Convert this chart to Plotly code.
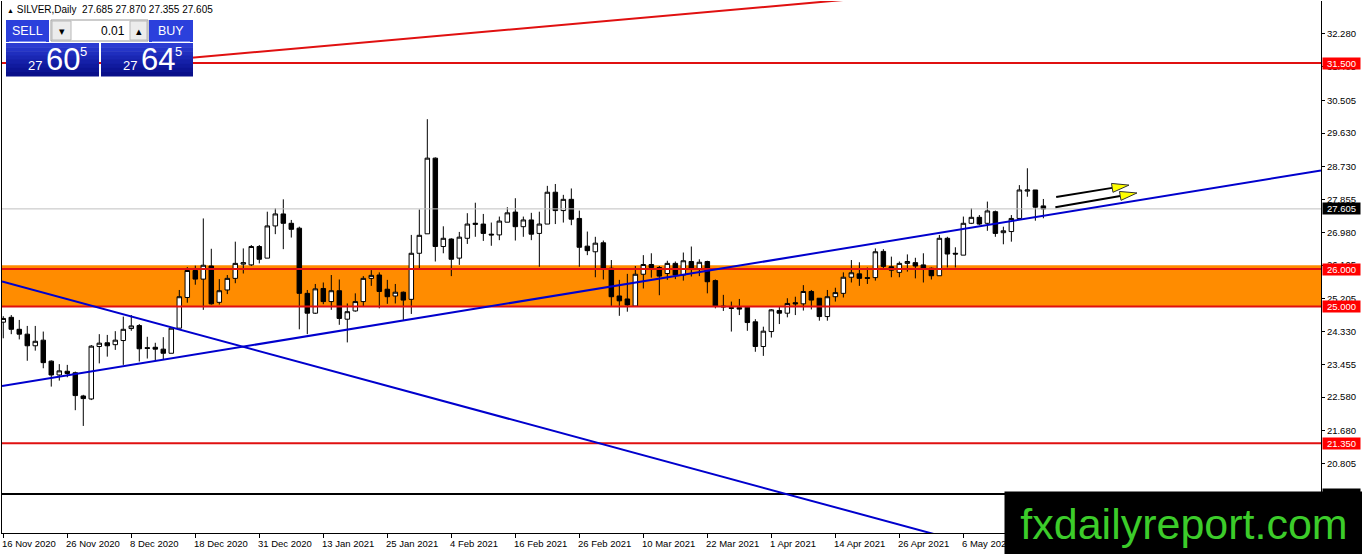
import plotly.graph_objects as go

# ---------------- data ----------------
open_ = [24.58, 24.71, 24.39, 24.26, 23.95, 24.10, 23.54, 23.17, 23.27, 23.23,
         22.61, 22.53, 23.93, 24.03, 23.98, 24.09, 24.41, 24.49, 23.90, 23.91,
         23.86, 23.75, 24.42, 25.24, 25.96, 25.73, 26.08, 25.11, 25.44, 25.75,
         26.13, 26.11, 26.60, 26.29, 27.15, 27.47, 27.22, 27.09, 25.35, 24.82,
         25.48, 25.13, 25.42, 24.66, 24.88, 25.13, 25.75, 25.84, 25.46, 25.28,
         25.38, 25.19, 26.42, 26.94, 28.96, 26.60, 26.80, 26.29, 26.82, 27.19,
         27.20, 26.93, 26.91, 27.25, 27.52, 27.13, 27.31, 26.95, 27.20, 28.05,
         27.56, 27.86, 27.35, 26.61, 26.46, 26.70, 26.02, 25.28, 25.20, 25.01,
         25.86, 26.12, 26.04, 25.88, 26.15, 25.84, 26.20, 26.00, 26.20, 25.69,
         25.01, 24.97, 24.97, 24.98, 24.59, 23.93, 24.33, 24.89, 24.82, 25.10,
         25.07, 25.40, 25.22, 24.73, 25.26, 25.35, 25.78, 25.87, 25.77, 25.77,
         26.47, 26.06, 25.91, 26.15, 26.17, 26.11, 26.02, 25.82, 26.82, 26.42,
         26.37, 27.22, 27.38, 27.22, 27.53, 26.97, 27.00, 27.35, 28.08, 28.11,
         27.685]
high_ = [24.74, 24.77, 24.64, 24.48, 24.48, 24.33, 23.56, 23.46, 23.44, 23.26,
         22.64, 23.97, 24.26, 24.24, 24.34, 24.73, 24.77, 24.53, 24.19, 24.03,
         24.18, 24.42, 25.44, 26.05, 26.09, 27.35, 26.54, 25.73, 25.84, 26.73,
         26.55, 26.64, 26.64, 27.53, 27.62, 27.86, 27.31, 27.13, 25.44, 25.60,
         25.64, 25.84, 25.72, 25.08, 25.35, 25.81, 25.97, 25.91, 25.71, 25.60,
         25.40, 26.91, 27.59, 30.00, 28.98, 27.14, 26.82, 26.99, 27.49, 27.77,
         27.47, 27.24, 27.40, 27.65, 27.89, 27.40, 27.50, 27.53, 28.22, 28.27,
         27.98, 28.15, 27.56, 27.00, 26.86, 26.76, 26.24, 25.71, 25.87, 26.08,
         26.37, 26.42, 26.08, 26.22, 26.20, 26.44, 26.60, 26.26, 26.22, 25.72,
         25.31, 25.13, 25.20, 25.01, 24.66, 24.46, 24.93, 24.99, 25.22, 25.26,
         25.57, 25.44, 25.22, 25.44, 25.50, 25.91, 26.24, 26.18, 26.04, 26.55,
         26.53, 26.33, 26.20, 26.39, 26.30, 26.42, 26.04, 26.91, 26.86, 26.58,
         27.40, 27.62, 27.44, 27.80, 27.56, 27.13, 27.44, 28.24, 28.69, 28.11,
         27.870]
low_ = [24.15, 24.26, 24.12, 23.55, 23.82, 23.35, 22.86, 23.02, 23.11, 22.23,
        21.81, 22.50, 23.48, 23.66, 23.84, 23.44, 24.35, 23.53, 23.61, 23.57,
        23.57, 23.75, 24.42, 25.10, 25.58, 24.91, 25.05, 25.05, 25.33, 25.62,
        25.88, 26.08, 26.15, 26.29, 26.93, 26.53, 26.84, 24.39, 24.26, 24.80,
        25.06, 24.91, 24.51, 24.04, 24.86, 25.01, 25.55, 24.95, 25.07, 25.08,
        24.64, 24.80, 25.99, 26.94, 26.20, 26.42, 25.81, 26.11, 26.67, 26.86,
        26.75, 26.62, 26.77, 27.25, 26.76, 26.86, 26.77, 26.06, 27.20, 27.20,
        27.24, 27.17, 26.06, 26.37, 25.78, 25.72, 24.99, 24.75, 24.86, 25.01,
        25.48, 25.77, 25.30, 25.71, 25.73, 25.69, 25.80, 25.81, 25.35, 24.95,
        24.88, 24.33, 24.77, 24.35, 23.79, 23.68, 24.17, 24.53, 24.71, 24.77,
        24.89, 24.92, 24.62, 24.62, 25.13, 25.24, 25.64, 25.55, 25.60, 25.69,
        25.98, 25.78, 25.78, 25.93, 25.75, 25.64, 25.72, 25.82, 26.04, 26.04,
        26.37, 27.20, 27.17, 27.02, 26.86, 26.66, 26.73, 27.35, 27.93, 27.29,
        27.355]
close_ = [24.68, 24.39, 24.26, 23.95, 24.07, 23.50, 23.17, 23.28, 23.21, 22.62,
          22.54, 23.94, 24.02, 23.95, 24.10, 24.39, 24.48, 23.87, 23.88, 23.86,
          23.75, 24.42, 25.26, 25.96, 25.73, 26.10, 25.07, 25.42, 25.75, 26.15,
          26.17, 26.60, 26.26, 27.15, 27.47, 27.22, 27.06, 25.35, 24.82, 25.47,
          25.13, 25.42, 24.68, 24.86, 25.13, 25.75, 25.83, 25.40, 25.26, 25.38,
          25.17, 26.42, 26.90, 28.96, 26.60, 26.82, 26.26, 26.85, 27.20, 27.22,
          26.95, 26.91, 27.28, 27.50, 27.13, 27.31, 26.93, 27.20, 28.05, 27.56,
          27.86, 27.33, 26.58, 26.49, 26.69, 25.99, 25.26, 25.15, 25.04, 25.86,
          26.12, 26.04, 25.81, 26.15, 25.84, 26.22, 26.02, 26.18, 25.66, 25.01,
          24.99, 24.95, 24.93, 24.57, 23.93, 24.34, 24.91, 24.82, 25.08, 25.07,
          25.40, 25.17, 24.73, 25.26, 25.37, 25.78, 25.90, 25.75, 25.75, 26.46,
          26.07, 25.97, 26.15, 26.20, 26.08, 26.00, 25.82, 26.82, 26.40, 26.40,
          27.22, 27.38, 27.20, 27.55, 26.95, 27.02, 27.35, 28.11, 28.11, 27.65,
          27.605]

date_labels = ["16 Nov 2020", "26 Nov 2020", "8 Dec 2020", "18 Dec 2020",
               "31 Dec 2020", "13 Jan 2021", "25 Jan 2021", "4 Feb 2021",
               "16 Feb 2021", "26 Feb 2021", "10 Mar 2021", "22 Mar 2021",
               "1 Apr 2021", "14 Apr 2021", "26 Apr 2021", "6 May 2021",
               "18 May 2021"]
bars_per_label = 8

ytick_vals = [32.280, 31.405, 30.505, 29.630, 28.730, 27.855, 26.980, 26.105,
              25.205, 24.330, 23.455, 22.580, 21.680, 20.805, 19.930]

red_levels = [31.500, 26.000, 25.000, 21.350]
black_level = 19.990
bid_price = 27.605
zone_low, zone_high = 25.0, 26.1

# trend-line anchor points (bar index, price)
rising_x, rising_y = [0, 110], [22.88, 26.72]
falling_x, falling_y = [0, 115], [25.66, 19.00]
red_diag_x, red_diag_y = [24, 100.6], [31.65, 33.10]
arrow_tail_x, arrow_tail_y = [131.6, 131.5], [27.92, 27.65]
arrow_tip_x, arrow_tip_y = [140.7, 141.7], [28.24, 28.03]

sell_price, buy_price = ("27", "60", "5"), ("27", "64", "5")
lot_size = "0.01"

# ---------------- geometry ----------------
W, H = 1362, 554
ML, MR, MT, MB = 2, 41, 1, 21
PW, PH = W - ML - MR, H - MT - MB
X_RANGE = [-0.16, 164.7]
Y_RANGE = [18.951, 33.156]
SX = PW / (X_RANGE[1] - X_RANGE[0])
SY = PH / (Y_RANGE[1] - Y_RANGE[0])

RED = "#e01010"
LABEL_RED = "#ff0000"
BLUE = "#0000cd"
FONT = "Liberation Sans"


def xp(px):
    return (px - ML) / PW


def yp(py):
    return (MT + PH - py) / PH


def extend(ax, ay, x0, x1):
    k = (ay[1] - ay[0]) / (ax[1] - ax[0])
    return [x0, x1], [ay[0] + k * (x0 - ax[0]), ay[0] + k * (x1 - ax[0])]


xs = list(range(len(open_)))
fig = go.Figure()

# horizontal level lines
for lv in red_levels:
    fig.add_trace(go.Scatter(x=X_RANGE, y=[lv, lv], mode="lines",
                             line=dict(color=RED, width=2), hoverinfo="skip"))
fig.add_trace(go.Scatter(x=X_RANGE, y=[black_level, black_level], mode="lines",
                         line=dict(color="black", width=2), hoverinfo="skip"))
fig.add_trace(go.Scatter(x=X_RANGE, y=[bid_price, bid_price], mode="lines",
                         line=dict(color="#c0c0c0", width=1), hoverinfo="skip"))

# candles
fig.add_trace(go.Candlestick(
    x=xs, open=open_, high=high_, low=low_, close=close_,
    increasing=dict(fillcolor="white", line=dict(color="black", width=1)),
    decreasing=dict(fillcolor="black", line=dict(color="black", width=1)),
    whiskerwidth=0, hoverinfo="skip"))

# trend lines
lx, ly = extend(rising_x, rising_y, X_RANGE[0], X_RANGE[1])
fig.add_trace(go.Scatter(x=lx, y=ly, mode="lines", line=dict(color=BLUE, width=2)))
lx, ly = extend(falling_x, falling_y, X_RANGE[0], X_RANGE[1])
fig.add_trace(go.Scatter(x=lx, y=ly, mode="lines", line=dict(color=BLUE, width=2)))
lx, ly = extend(red_diag_x, red_diag_y, 20, X_RANGE[1])
fig.add_trace(go.Scatter(x=lx, y=ly, mode="lines", line=dict(color=RED, width=2)))

# arrows (black shaft + yellow head)
HEAD_LEN, HEAD_HALF = 17.0, 4.5
for tx, ty, hx, hy in zip(arrow_tail_x, arrow_tail_y, arrow_tip_x, arrow_tip_y):
    dx, dy = (hx - tx) * SX, (hy - ty) * SY
    n = (dx * dx + dy * dy) ** 0.5
    ux, uy = dx / n, dy / n
    bx, by = hx - ux * HEAD_LEN / SX, hy - uy * HEAD_LEN / SY
    px_, py_ = -uy, ux
    v1 = (bx + px_ * HEAD_HALF / SX, by + py_ * HEAD_HALF / SY)
    v2 = (bx - px_ * HEAD_HALF / SX, by - py_ * HEAD_HALF / SY)
    fig.add_trace(go.Scatter(x=[tx, bx], y=[ty, by], mode="lines",
                             line=dict(color="black", width=2)))
    fig.add_trace(go.Scatter(x=[hx, v1[0], v2[0], hx], y=[hy, v1[1], v2[1], hy],
                             mode="lines", fill="toself", fillcolor="#ffff00",
                             line=dict(color="#303030", width=1)))

shapes = []
# support/resistance zone (behind candles)
shapes.append(dict(type="rect", xref="paper", yref="y", x0=0, x1=1,
                   y0=zone_low, y1=zone_high, fillcolor="#ff8c00",
                   line=dict(width=0), layer="below"))

# one-click trading panel
def rect(x0, y0, x1, y1, fill, line_color=None):
    shapes.append(dict(type="rect", xref="paper", yref="paper",
                       x0=xp(x0), x1=xp(x1), y0=yp(y1), y1=yp(y0),
                       fillcolor=fill, layer="above",
                       line=dict(width=1 if line_color else 0,
                                 color=line_color or fill)))

rect(6, 20, 49, 42, "#2b40dc")
rect(149, 20, 193, 42, "#2b40dc")
rect(51, 20, 148, 41, "white", "#9a9a9a")
rect(52, 21, 71, 40, "#ececec", "#b8b8b8")
rect(130, 21, 147, 40, "#ececec", "#b8b8b8")
shades = ["#2c3cd2", "#2535c8", "#1f2ebe", "#1a27b3", "#1520a8",
          "#101a9e", "#0c1494", "#090f8a"]
band = (76 - 43) / len(shades)
for k, c in enumerate(shades):
    rect(6, 43 + k * band, 99, 43 + (k + 1) * band + 0.6, c)
    rect(101, 43 + k * band, 193, 43 + (k + 1) * band + 0.6, c)
shapes.append(dict(type="line", xref="paper", yref="paper", x0=xp(9), x1=xp(46),
                   y0=yp(41.5), y1=yp(41.5), line=dict(color="#7d8cf0", width=1),
                   layer="above"))
shapes.append(dict(type="line", xref="paper", yref="paper", x0=xp(152), x1=xp(190),
                   y0=yp(41.5), y1=yp(41.5), line=dict(color="#7d8cf0", width=1),
                   layer="above"))

annotations = []


def txt(text, px, py, size, color="white", anchor="center", family=FONT):
    annotations.append(dict(text=text, xref="paper", yref="paper",
                            x=xp(px), y=yp(py), xanchor=anchor, yanchor="middle",
                            showarrow=False,
                            font=dict(family=family, size=size, color=color)))

# header
txt("<span style='font-size:7px'>▲</span> SILVER,Daily  "
    f"{open_[-1]:.3f} {high_[-1]:.3f} {low_[-1]:.3f} {close_[-1]:.3f}",
    5, 10, 10, "black", "left")
txt("SELL", 27.5, 31, 12.5)
txt("BUY", 171, 31, 12.5)
txt("▾", 61.5, 31, 11, "black")
txt("▴", 138.5, 31, 11, "black")
txt(lot_size, 127, 31, 12, "black", "right")
for base, (a, b, c) in ((0, sell_price), (95, buy_price)):
    txt(a, 35 + base, 66, 13)
    txt(b, 62.5 + base, 59.5, 31)
    txt(c, 83.5 + base, 51, 13)

# x tick labels (left aligned at tick, like the terminal)
for k, lab in enumerate(date_labels):
    annotations.append(dict(text=lab, xref="x", yref="paper",
                            x=k * bars_per_label, y=0, xanchor="left",
                            yanchor="top", xshift=-3, yshift=-3, showarrow=False,
                            font=dict(family=FONT, size=9.5, color="black")))

# price labels on the right axis
def price_label(val, bg):
    annotations.append(dict(text=f"{val:.3f}", xref="paper", yref="y", x=1,
                            y=val, xanchor="left", yanchor="middle", xshift=1,
                            showarrow=False, bgcolor=bg, borderpad=0,
                            width=37, height=11, align="center",
                            font=dict(family=FONT, size=9.5, color="white")))

for lv in red_levels:
    price_label(lv, LABEL_RED)
price_label(bid_price, "black")
price_label(black_level, "black")

# watermark box (on top of everything)
annotations.append(dict(text="fxdailyreport.com", xref="paper", yref="paper",
                        x=xp(1004), y=yp(491), xanchor="left", yanchor="top",
                        width=358, height=63, borderpad=0, bgcolor="black",
                        showarrow=False, align="center", valign="middle",
                        font=dict(family=FONT, size=43, color="#3ccc2a")))

fig.update_layout(
    width=W, height=H, margin=dict(l=ML, r=MR, t=MT, b=MB),
    paper_bgcolor="white", plot_bgcolor="white", showlegend=False,
    boxgap=0.2, shapes=shapes, annotations=annotations,
    xaxis=dict(range=X_RANGE, showgrid=False, zeroline=False,
               showline=True, linecolor="black", linewidth=1,
               tickmode="array",
               tickvals=[k * bars_per_label for k in range(len(date_labels))],
               showticklabels=False, ticks="outside", ticklen=4,
               tickcolor="black", rangeslider=dict(visible=False),
               fixedrange=True),
    yaxis=dict(range=Y_RANGE, side="right", showgrid=False, zeroline=False,
               showline=True, mirror=True, linecolor="black", linewidth=1,
               tickmode="array", tickvals=ytick_vals,
               ticktext=[f"{v:.3f}" for v in ytick_vals],
               ticks="outside", ticklen=3, tickcolor="black",
               tickfont=dict(family=FONT, size=9.5, color="black"),
               fixedrange=True),
)

fig.write_html("out.html", config={"displayModeBar": False},
               post_script="document.body.style.margin='0';"
                           "document.body.style.overflow='hidden';")
